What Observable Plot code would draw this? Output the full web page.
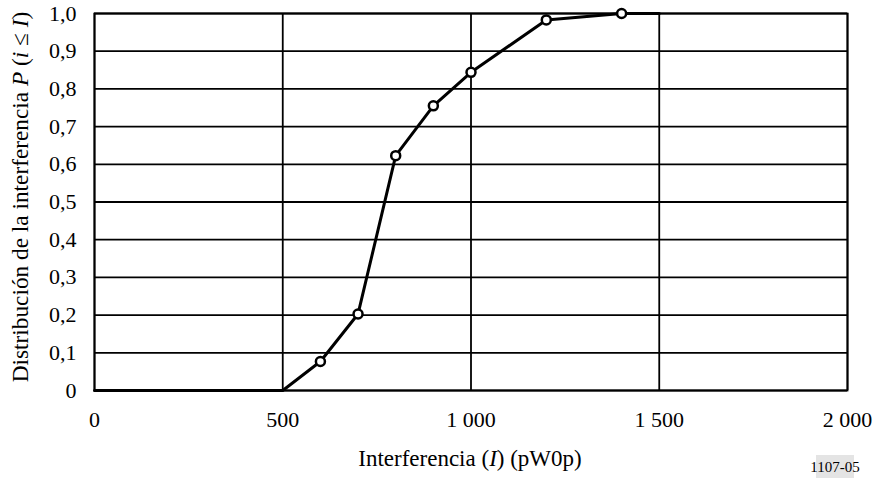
<!DOCTYPE html>
<html><head><meta charset="utf-8">
<script src="https://cdn.jsdelivr.net/npm/d3@7"></script>
<script src="https://cdn.jsdelivr.net/npm/@observablehq/plot@0.6"></script>
<style>body{margin:0;background:#fff}</style>
</head><body><div id="chart"></div>
<script>
const interference = [0, 500, 600, 700, 800, 900, 1000, 1200, 1400, 1500];
const probability = [0, 0, 0.077, 0.203, 0.623, 0.755, 0.844, 0.983, 1.0, 1.0];
const markerIndex = [2, 3, 4, 5, 6, 7, 8];
const xTicks = [0, 500, 1000, 1500, 2000];
const yTicks = [0, 0.1, 0.2, 0.3, 0.4, 0.5, 0.6, 0.7, 0.8, 0.9, 1.0];

const rows = interference.map((x, i) => ({x, p: probability[i]}));
const markers = markerIndex.map(i => rows[i]);

const fmtX = d => d >= 1000 ? d3.format(",")(d).replace(",", " ") : String(d);
const fmtY = d => d === 0 ? "0" : d.toFixed(1).replace(".", ",");

const font = "'Liberation Serif', 'Times New Roman', serif";

const plot = Plot.plot({
  width: 876, height: 481,
  marginLeft: 94, marginRight: 29, marginTop: 13, marginBottom: 91,
  style: {fontFamily: font, fontSize: "22px", color: "black", background: "white"},
  x: {domain: [0, 2000]},
  y: {domain: [0, 1]},
  marks: [
    Plot.ruleX(xTicks, {stroke: "black", strokeWidth: 1.8}),
    Plot.ruleY(yTicks, {stroke: "black", strokeWidth: 1.8}),
    Plot.frame({stroke: "black", strokeWidth: 1.8}),
    Plot.axisX(xTicks, {tickSize: 0, tickPadding: 21, tickFormat: fmtX, label: null, fontSize: 22, fill: "black"}),
    Plot.axisY(yTicks, {tickSize: 0, tickPadding: 18, tickFormat: fmtY, label: null, fontSize: 22, fill: "black"}),
    Plot.line(rows, {x: "x", y: "p", stroke: "black", strokeWidth: 3}),
    Plot.dot(markers, {x: "x", y: "p", r: 4.5, fill: "white", stroke: "black", strokeWidth: 2.5})
  ]
});
document.getElementById("chart").appendChild(plot);

const svg = d3.select(plot);

const xl = svg.append("text")
  .attr("x", 470).attr("y", 466)
  .attr("text-anchor", "middle")
  .attr("font-size", 23).attr("fill", "black");
xl.append("tspan").text("Interferencia (");
xl.append("tspan").attr("font-style", "italic").text("I");
xl.append("tspan").text(") (pW0p)");

const yl = svg.append("text")
  .attr("transform", "translate(28,197) rotate(-90)")
  .attr("text-anchor", "middle")
  .attr("font-size", 23.3).attr("fill", "black");
yl.append("tspan").text("Distribución de la interferencia ");
yl.append("tspan").attr("font-style", "italic").text("P");
yl.append("tspan").text(" (");
yl.append("tspan").attr("font-style", "italic").text("i");
yl.append("tspan").text(" ≤ ");
yl.append("tspan").attr("font-style", "italic").text("I");
yl.append("tspan").text(")");

const g = svg.append("g");
g.append("rect").attr("x", 816).attr("y", 455).attr("width", 38).attr("height", 23).attr("fill", "#e4e4e4");
g.append("text").attr("x", 835).attr("y", 472).attr("text-anchor", "middle")
  .attr("font-size", 15).attr("fill", "black").text("1107-05");

svg.selectAll("text").style("font-family", font).style("font-variant", "normal");
</script>
</body></html>
